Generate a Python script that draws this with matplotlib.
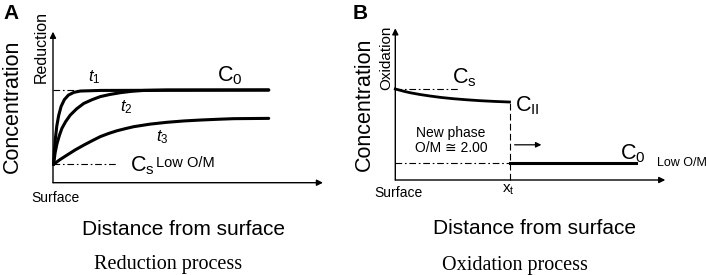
import matplotlib
matplotlib.use("Agg")
import matplotlib.pyplot as plt

plt.rcParams['font.family'] = ['Liberation Sans', 'DejaVu Sans']
plt.rcParams['mathtext.fontset'] = 'custom'
plt.rcParams['mathtext.rm'] = 'Liberation Sans'
plt.rcParams['mathtext.it'] = 'Liberation Sans:italic'

# panel A: reduction profiles (arbitrary units, x 0..10, y 0..10)
c0_red = 6.12
cs_red = 1.21
t1_x = [0.02, 0.05, 0.09, 0.14, 0.21, 0.30, 0.42, 0.57, 0.77, 1.01, 1.75, 7.99]
t1_y = [1.21, 2.10, 2.95, 3.75, 4.45, 5.05, 5.50, 5.80, 5.98, 6.07, 6.11, 6.14]
t2_x = [0.02, 0.08, 0.15, 0.24, 0.33, 0.47, 0.64, 0.88, 1.14, 1.45, 1.75, 2.10, 2.49, 2.90, 3.36, 4.22, 7.99]
t2_y = [1.21, 2.00, 2.60, 3.15, 3.60, 4.05, 4.48, 4.90, 5.25, 5.50, 5.70, 5.84, 5.96, 6.05, 6.11, 6.14, 6.14]
t3_x = [0.02, 0.25, 0.52, 0.83, 1.14, 1.45, 1.75, 2.06, 2.37, 2.68, 2.99, 3.60, 4.22, 4.85, 5.46, 6.10, 6.69, 7.35, 7.99]
t3_y = [1.21, 1.52, 1.83, 2.18, 2.49, 2.78, 3.05, 3.26, 3.44, 3.58, 3.71, 3.88, 4.00, 4.09, 4.15, 4.20, 4.24, 4.25, 4.26]
cs_ref_x = [0.0, 2.37]

# panel B: oxidation profile
cs_ox = 6.0
low_ox = 1.10
x_t = 4.23
ox_x = [0.0, 0.27, 0.53, 0.90, 1.27, 1.70, 2.14, 2.63, 3.12, 3.68, 4.23]
ox_y = [6.0, 5.87, 5.76, 5.64, 5.54, 5.44, 5.36, 5.29, 5.23, 5.18, 5.14]
c0_ox_x = [4.23, 8.93]
c0_ox_y = [1.15, 1.15]

DASHDOT = (0, (6, 2.5, 1.5, 2.5))


def draw_axes_arrows(ax):
    ax.annotate('', xy=(10, 0), xytext=(0, 0),
                arrowprops=dict(arrowstyle='-|>', lw=1.0, color='black',
                                mutation_scale=9, shrinkA=0, shrinkB=0))
    ax.annotate('', xy=(0, 10), xytext=(0, 0),
                arrowprops=dict(arrowstyle='-|>', lw=1.0, color='black',
                                mutation_scale=9, shrinkA=0, shrinkB=0))


def setup(ax):
    ax.set_xlim(0, 10)
    ax.set_ylim(0, 10)
    ax.axis('off')


fig = plt.figure(figsize=(7.06, 2.75), dpi=100)

# ---------------- panel A ----------------
axA = fig.add_axes([53 / 706, (275 - 182.7) / 275, 270 / 706, 151 / 275])
setup(axA)
draw_axes_arrows(axA)

axA.plot([0, 2.2], [c0_red, c0_red], color='black', lw=0.8, ls=DASHDOT, clip_on=False)
axA.plot(cs_ref_x, [cs_red, cs_red], color='black', lw=0.8, ls=DASHDOT, clip_on=False)
for xs, ys in [(t1_x, t1_y), (t2_x, t2_y), (t3_x, t3_y)]:
    axA.plot(xs, ys, color='black', lw=2.2, solid_joinstyle='round',
             solid_capstyle='round', clip_on=False)

axA.annotate('', xy=(-0.22, cs_red), xytext=(-0.22, c0_red),
             arrowprops=dict(arrowstyle='-|>', lw=2.0, color='black',
                             mutation_scale=12, shrinkA=0, shrinkB=0))

axA.text(-1.52, 5.08, 'Concentration', rotation=90, fontsize=15.5,
         ha='center', va='center')
axA.text(-0.44, 9.0, 'Reduction', rotation=90, fontsize=11.5,
         ha='center', va='center')
axA.text(1.53, 6.98, r'$\mathit{t_1}$', fontsize=12, ha='center', va='center')
axA.text(2.73, 4.99, r'$\mathit{t_2}$', fontsize=12, ha='center', va='center')
axA.text(4.03, 3.00, r'$\mathit{t_3}$', fontsize=12, ha='center', va='center')
axA.text(6.56, 7.07, r'$\mathregular{C_0}$', fontsize=15.5, ha='center', va='center')
axA.text(3.30, 1.12, r'$\mathregular{C_s}$', fontsize=15.5, ha='center', va='center')
axA.text(4.89, 1.28, 'Low O/M', fontsize=10.5, ha='center', va='center')
axA.text(0.10, -0.99, 'Surface', fontsize=10, ha='center', va='center')
axA.text(4.85, -3.13, 'Distance from surface', fontsize=15, ha='center', va='center')
axA.text(4.27, -5.45, 'Reduction process', fontsize=14.5, ha='center', va='center',
         family='Liberation Serif')

# ---------------- panel B ----------------
axB = fig.add_axes([395.3 / 706, (275 - 180) / 275, 270 / 706, 151.7 / 275])
setup(axB)
draw_axes_arrows(axB)

axB.plot([0, 2.38], [cs_ox, cs_ox], color='black', lw=0.8, ls=DASHDOT, clip_on=False)
axB.plot([0, x_t], [low_ox, low_ox], color='black', lw=0.8, ls=DASHDOT, clip_on=False)
axB.plot([x_t, x_t], [0, ox_y[-1]], color='black', lw=0.8, ls=(0, (6, 3)), clip_on=False)
axB.plot(ox_x, ox_y, color='black', lw=2.0, solid_joinstyle='round', clip_on=False)
axB.plot(c0_ox_x, c0_ox_y, color='black', lw=2.2, clip_on=False)

axB.annotate('', xy=(-0.15, 5.92), xytext=(-0.15, low_ox),
             arrowprops=dict(arrowstyle='-|>', lw=2.0, color='black',
                             mutation_scale=12, shrinkA=0, shrinkB=0))
axB.annotate('', xy=(5.41, 2.32), xytext=(4.42, 2.32),
             arrowprops=dict(arrowstyle='-|>', lw=0.9, color='black',
                             mutation_scale=8, shrinkA=0, shrinkB=0))

axB.text(-1.13, 4.97, 'Concentration', rotation=90, fontsize=15.5,
         ha='center', va='center')
axB.text(-0.33, 8.06, 'Oxidation', rotation=90, fontsize=11,
         ha='center', va='center')
axB.text(2.57, 6.73, r'$\mathregular{C_s}$', fontsize=15.5, ha='center', va='center')
axB.text(4.88, 4.90, r'$\mathregular{C_{II}}$', fontsize=15.5, ha='center', va='center')
axB.text(2.04, 3.13, 'New phase', fontsize=10, ha='center', va='center')
axB.text(2.08, 2.10, 'O/M \u2245 2.00', fontsize=10, ha='center', va='center')
axB.text(8.78, 1.72, r'$\mathregular{C_0}$', fontsize=15.5, ha='center', va='center')
axB.text(10.6, 1.10, 'Low O/M', fontsize=9, ha='center', va='center')
axB.text(4.17, -0.66, r'$\mathregular{x_t}$', fontsize=11, ha='center', va='center')
axB.text(0.13, -0.88, 'Surface', fontsize=10, ha='center', va='center')
axB.text(5.16, -3.20, 'Distance from surface', fontsize=15, ha='center', va='center')
axB.text(4.44, -5.63, 'Oxidation process', fontsize=14.5, ha='center', va='center',
         family='Liberation Serif')

fig.text(3 / 706, 1 - 4 / 275, 'A', fontsize=15, fontweight='bold', ha='left', va='top')
fig.text(353 / 706, 1 - 4 / 275, 'B', fontsize=15, fontweight='bold', ha='left', va='top')

fig.savefig('out.png', dpi=100)
